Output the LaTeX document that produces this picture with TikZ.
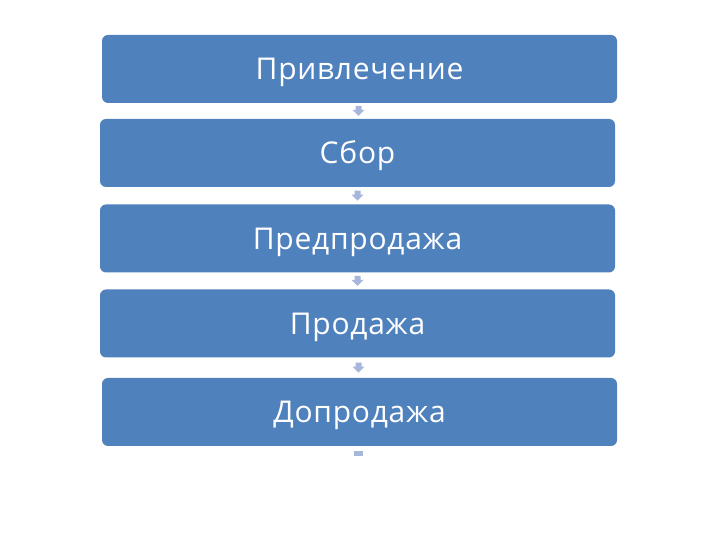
\documentclass[tikz,border=0pt]{standalone}
\usepackage{fontspec}
\setmainfont[LetterSpace=2.5]{Open Sans}
\usetikzlibrary{calc}
\begin{document}
\begin{tikzpicture}[x=1pt,y=1pt,
  stage/.style={draw=none,fill={rgb,255:red,79;green,129;blue,189},rounded corners=6pt,
    minimum width=515pt,minimum height=68pt,inner sep=0pt,text=white,
    text height=22pt,text depth=0pt,
    font=\fontsize{30}{32}\selectfont},
  link/.style={fill={rgb,255:red,167;green,183;blue,220},draw=none}]
\useasboundingbox (0,0) rectangle (720,540);
\fill[white] (0,0) rectangle (720,540);
\node[stage] (s1) at (359.5,471) {Привлечение};
\node[stage] (s2) at (357.5,387) {Сбор};
\node[stage] (s3) at (357.5,301.5) {Предпродажа};
\node[stage] (s4) at (357.5,216.5) {Продажа};
\node[stage] (s5) at (359.5,128) {Допродажа};
\coordinate (end) at (358.5,86);
\newcommand{\downarr}[2]{%
  \path[link] ($(#1)!0.5!(#2)$) ++(-3,5) -- ++(6,0) -- ++(0,-4) -- ++(3,0) -- ++(-6,-6) -- ++(-6,6) -- ++(3,0) -- cycle;}
\downarr{s1.south}{s2.north}
\downarr{s2.south}{s3.north}
\downarr{s3.south}{s4.north}
\downarr{s4.south}{s5.north}
\path[link] ($(end)+(-4.5,-2.5)$) rectangle ($(end)+(4.5,2.5)$);
\end{tikzpicture}
\end{document}
